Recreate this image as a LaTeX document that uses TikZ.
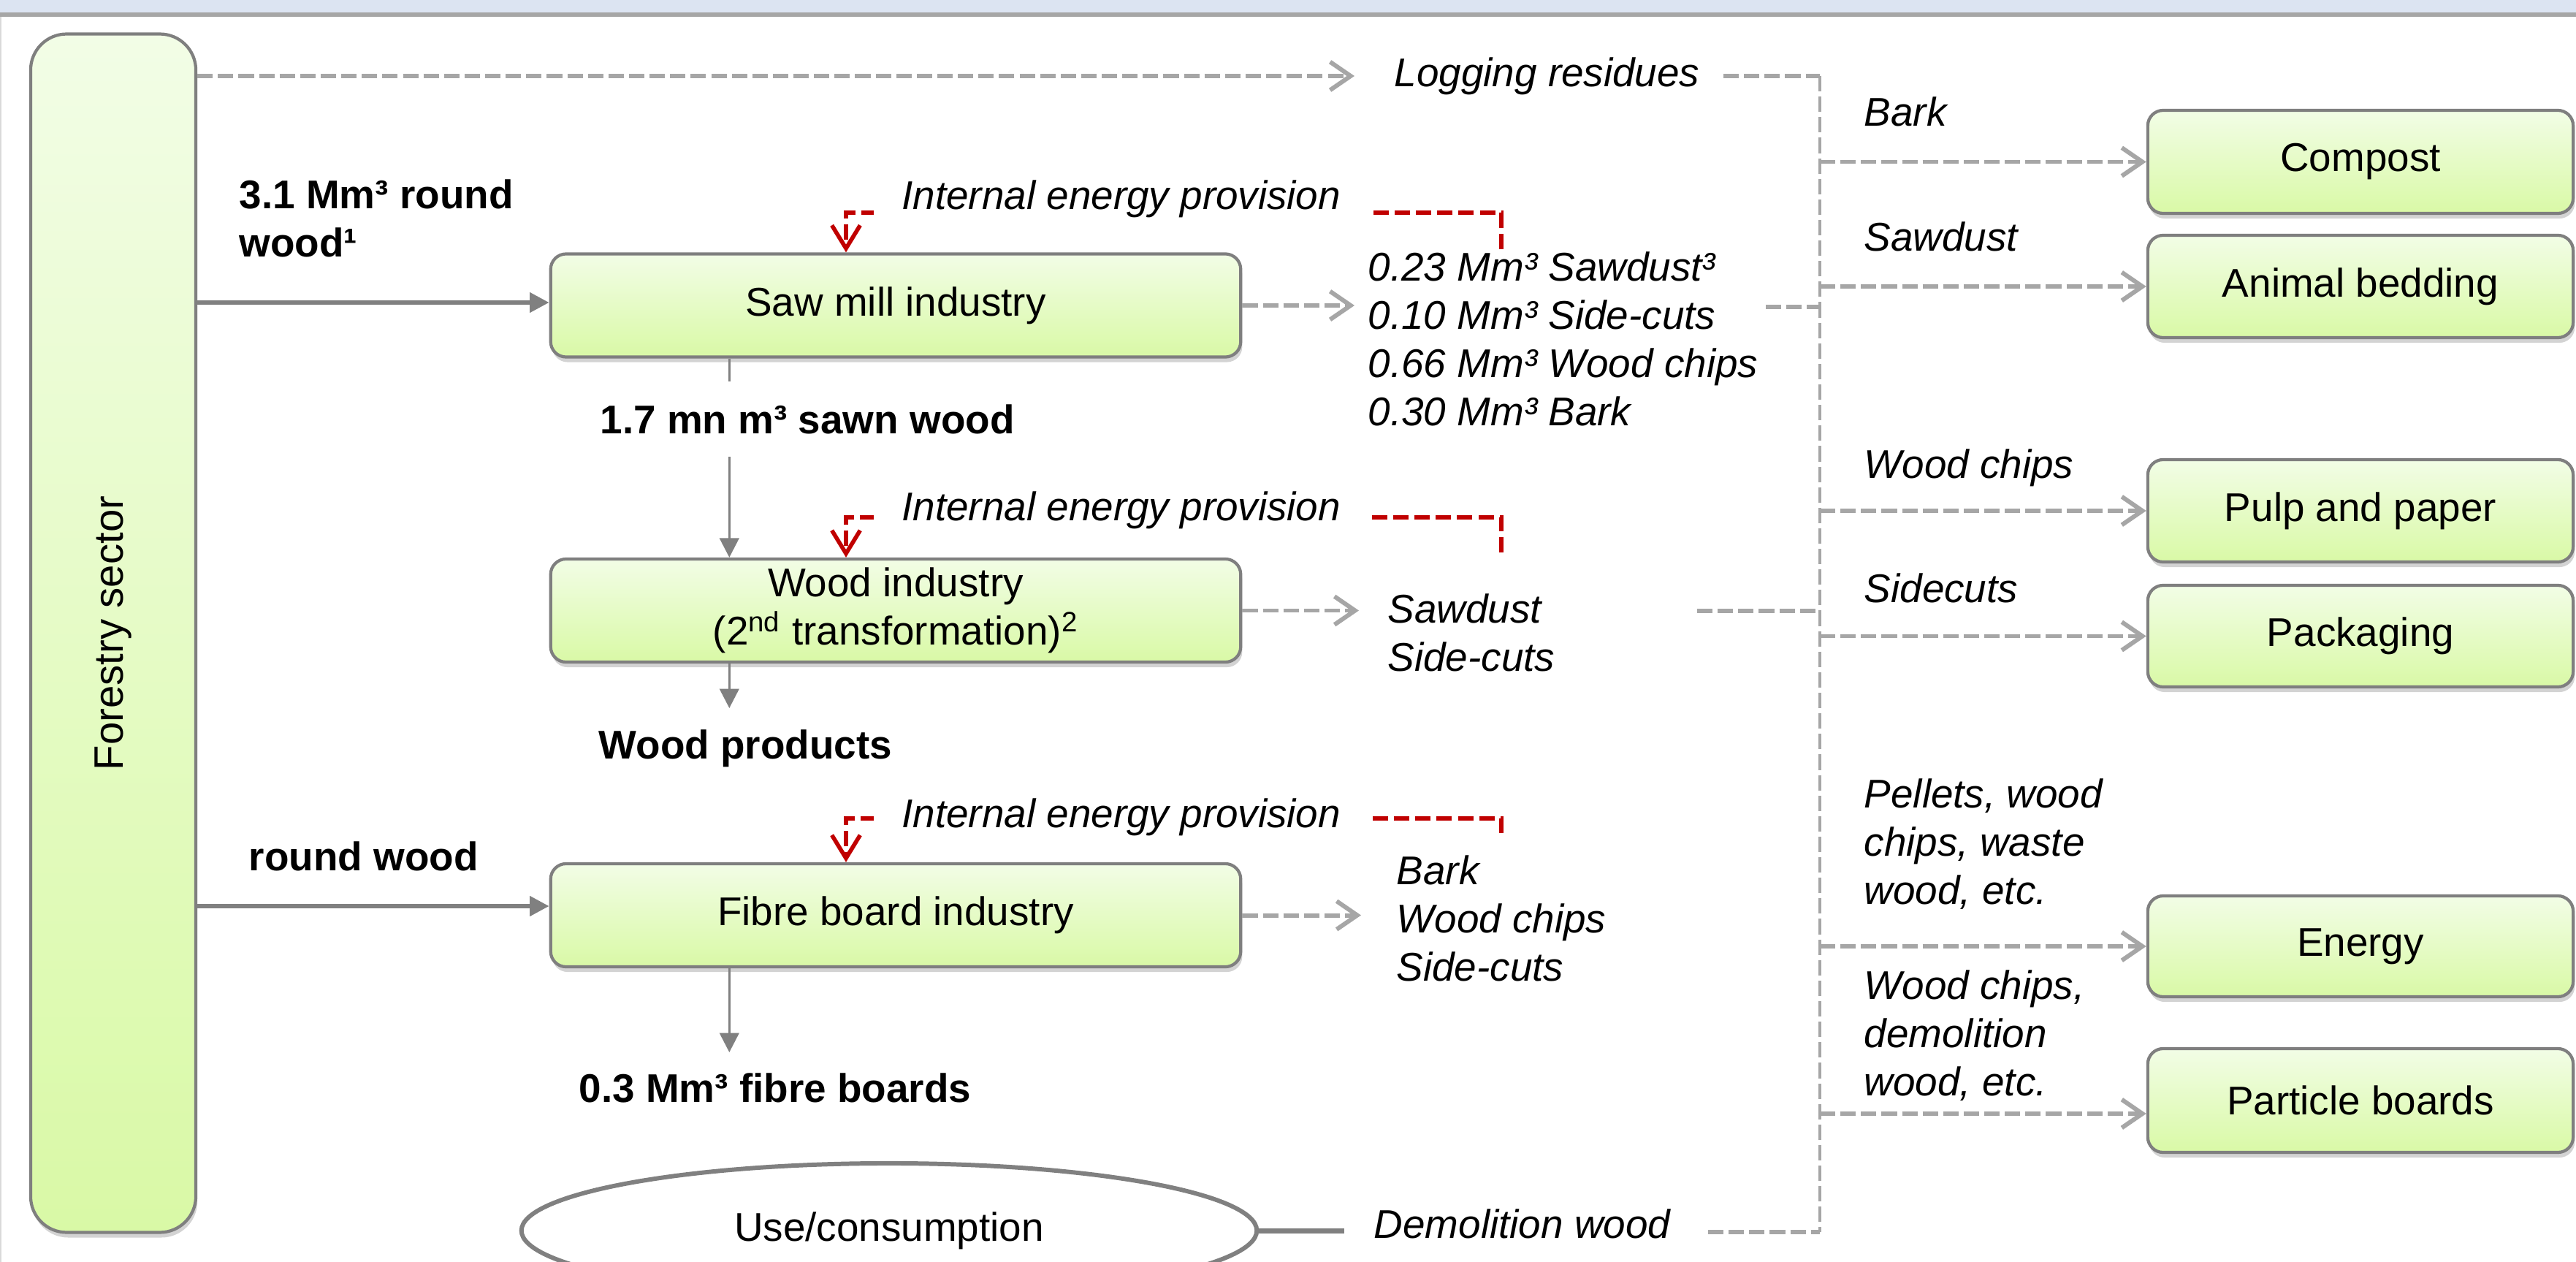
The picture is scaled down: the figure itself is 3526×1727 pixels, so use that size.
\documentclass[tikz,border=0pt]{standalone}
\usepackage{fontspec}
\setmainfont{Liberation Sans}
\usetikzlibrary{arrows.meta,shapes.geometric,shadows,calc}
\definecolor{boxtop}{HTML}{F2FDE6}
\definecolor{boxbot}{HTML}{D9F9A6}
\definecolor{boxedge}{HTML}{7F7F7F}
\definecolor{dgray}{HTML}{A6A6A6}
\definecolor{sgray}{HTML}{808080}
\definecolor{ered}{HTML}{C00000}
\definecolor{bandblue}{HTML}{DCE4F2}
\definecolor{bandline}{HTML}{A6A6A6}
\newcommand\myfs{\fontsize{15.6}{18.8}\selectfont}
\begin{document}
\begin{tikzpicture}[x=0.01cm,y=-0.01cm,
  every node/.style={font=\myfs, inner sep=0pt},
  greenbox/.style={rectangle, rounded corners=6pt, draw=boxedge, line width=1.2pt,
    top color=boxtop, bottom color=boxbot,
    drop shadow={shadow xshift=0.6pt, shadow yshift=-2pt, opacity=0.35},
    minimum width=9.44cm, minimum height=1.41cm, align=center},
  rightbox/.style={greenbox, minimum width=5.82cm, minimum height=1.41cm},
  itlab/.style={font=\myfs\itshape},
  bflab/.style={font=\myfs\bfseries},
  gdash/.style={draw=dgray, line width=1.7pt, dash pattern=on 6pt off 2pt},
  garrow/.style={gdash, -{Straight Barb[length=8pt,width=11pt]}},
  trunkline/.style={draw=dgray, line width=1.1pt, dash pattern=on 6pt off 2pt},
  sarrow/.style={draw=sgray, line width=0.9pt, -{Triangle[length=7.5pt,width=7.5pt]}},
  tharrow/.style={draw=sgray, line width=1.7pt, -{Triangle[length=7.5pt,width=7.5pt]}},
  redarrow/.style={draw=ered, line width=1.6pt, dash pattern=on 6pt off 2.3pt,
    -{Straight Barb[length=9pt,width=11pt]}},
  cover/.style={fill=white, inner xsep=11pt, inner ysep=1pt, anchor=base west, font=\myfs\itshape}
]
\useasboundingbox (0,0) rectangle (3526,1727);
\clip (0,0) rectangle (3526,1727);
% frame
\fill[bandblue] (0,0) rectangle (3526,17);
\fill[bandline] (0,17) rectangle (3526,23);
\draw[draw=black!15, line width=0.6pt] (1,23) -- (1,1727);

% main nodes
\node[greenbox, rounded corners=14pt, minimum width=2.26cm, minimum height=16.39cm] (forest) at (155,866.5) {};
\node[rotate=90, font=\fontsize{16}{19}\selectfont] (forestlab) at (forest.center) {Forestry sector};

\node[greenbox] (saw) at (1226,418) {Saw mill industry};
\node[greenbox] (wood) at (1226,835.5) {Wood industry\\(2\textsuperscript{nd} transformation)\textsuperscript{2}};
\node[greenbox] (fibre) at (1226,1252.5) {Fibre board industry};

\node[ellipse, draw=sgray, line width=1.7pt, fill=white, minimum width=10.06cm, minimum height=1.84cm] (use) at (1217,1684) {Use/consumption};

\node[rightbox] (compost) at (3231,221.5) {Compost};
\node[rightbox, minimum height=1.40cm] (bedding) at (3231,392) {Animal bedding};
\node[rightbox, minimum height=1.40cm] (pulp) at (3231,699) {Pulp and paper};
\node[rightbox, minimum height=1.39cm] (pack) at (3231,870.5) {Packaging};
\node[rightbox, minimum height=1.38cm] (energy) at (3231,1295) {Energy};
\node[rightbox, minimum height=1.42cm] (particle) at (3231,1506) {Particle boards};

% labels
\node[bflab, anchor=north west, align=left] (rw1) at (327,245) {3.1 Mm³ round\\wood¹};
\node[bflab, anchor=base west] (rw2) at (340,1191) {round wood};
\node[bflab, anchor=base west] (prodwp) at (819,1038) {Wood products};
\node[bflab, anchor=base west] (prodfb) at (792,1508) {0.3 Mm³ fibre boards};
\node[itlab, anchor=base west] (logging) at (1908,118) {Logging residues};
\node[itlab, anchor=north west, align=left] (sawout) at (1872,344) {0.23 Mm³ Sawdust³\\0.10 Mm³ Side-cuts\\0.66 Mm³ Wood chips\\0.30 Mm³ Bark};
\node[itlab, anchor=north west, align=left] (woodout) at (1899,812) {Sawdust\\Side-cuts};
\node[itlab, anchor=north west, align=left] (fibout) at (1911,1170) {Bark\\Wood chips\\Side-cuts};
\node[itlab, anchor=base west] (demol) at (1880,1694) {Demolition wood};

\node[itlab, anchor=base west] (lbark) at (2551,172) {Bark};
\node[itlab, anchor=base west] (lsaw) at (2551,343) {Sawdust};
\node[itlab, anchor=base west] (lchips) at (2551,654) {Wood chips};
\node[itlab, anchor=base west] (lside) at (2551,824) {Sidecuts};
\node[itlab, anchor=north west, align=left] (lpel) at (2551,1065) {Pellets, wood\\chips, waste\\wood, etc.};
\node[itlab, anchor=north west, align=left] (ldem) at (2551,1327) {Wood chips,\\demolition\\wood, etc.};

% coordinates
\coordinate (ttop) at (2491,104);
\coordinate (tbot) at (2491,1686);
\coordinate (logtip) at (1854,104);
\coordinate (logend) at (2359,104);
\coordinate (sawtip) at (1854,418);
\coordinate (sawend) at (2417,420);
\coordinate (woodtip) at (1860,835.5);
\coordinate (woodend) at (2323,836);
\coordinate (fibtip) at (1863,1252.5);
\coordinate (demstart) at (1840,1684);
\coordinate (demend) at (2338,1686);
\coordinate (wptip) at (1001,969);
\coordinate (fbtip) at (1001,1440);
\coordinate (rw1y) at (0,414);
\coordinate (rw2y) at (0,1240);
\coordinate (pby) at (0,1524);
\coordinate (r1) at (2055,341);
\coordinate (r1t) at (1158,291);
\coordinate (r2) at (2055,756);
\coordinate (r2t) at (1158,708);
\coordinate (r3) at (2055,1140);
\coordinate (r3t) at (1158,1120);
\coordinate (sawb) at ($(saw.south west)!0.26!(saw.south east)$);
\coordinate (woodb) at ($(wood.south west)!0.26!(wood.south east)$);
\coordinate (fibb) at ($(fibre.south west)!0.26!(fibre.south east)$);

% trunk
\draw[trunkline] (ttop) -- (tbot);
\draw[garrow] (forest.east |- logtip) -- (logtip);
\draw[gdash] (logend) -- (ttop);
\draw[garrow] (saw.east) -- (sawtip);
\draw[gdash] (sawend) -- (sawend -| ttop);
\draw[garrow] (wood.east) -- (woodtip);
\draw[gdash] (woodend) -- (woodend -| ttop);
\draw[garrow] (fibre.east) -- (fibtip);
\draw[gdash] (demend) -- (tbot);
\draw[draw=sgray, line width=2pt] (use.east |- demstart) -- (demstart);

\draw[garrow] (ttop |- compost.west) -- (compost.west);
\draw[garrow] (ttop |- bedding.west) -- (bedding.west);
\draw[garrow] (ttop |- pulp.west) -- (pulp.west);
\draw[garrow] (ttop |- pack.west) -- (pack.west);
\draw[garrow] (ttop |- energy.west) -- (energy.west);
\draw[garrow] (ttop |- pby) -- (particle.west |- pby);

% solid arrows
\draw[tharrow] (forest.east |- rw1y) -- (saw.west |- rw1y);
\draw[tharrow] (forest.east |- rw2y) -- (fibre.west |- rw2y);
\draw[sarrow] (sawb) -- (sawb |- wood.north);
\draw[sarrow] (woodb) -- (woodb |- wptip);
\draw[sarrow] (fibb) -- (fibb |- fbtip);
\node[bflab, anchor=base west, fill=white, inner ysep=9pt] (sawn) at (821,593) {1.7 mn m³ sawn wood};

% red energy arrows
\draw[redarrow] (r1) |- (r1t) -- (r1t |- saw.north);
\draw[redarrow] (r2) |- (r2t) -- (r2t |- wood.north);
\draw[redarrow] (r3) |- (r3t) -- (r3t |- fibre.north);
\node[cover] (iep1) at (1195,286) {Internal energy provision};
\node[cover] (iep2) at (1195,712) {Internal energy provision};
\node[cover] (iep3) at (1195,1132) {Internal energy provision};
\end{tikzpicture}
\end{document}
